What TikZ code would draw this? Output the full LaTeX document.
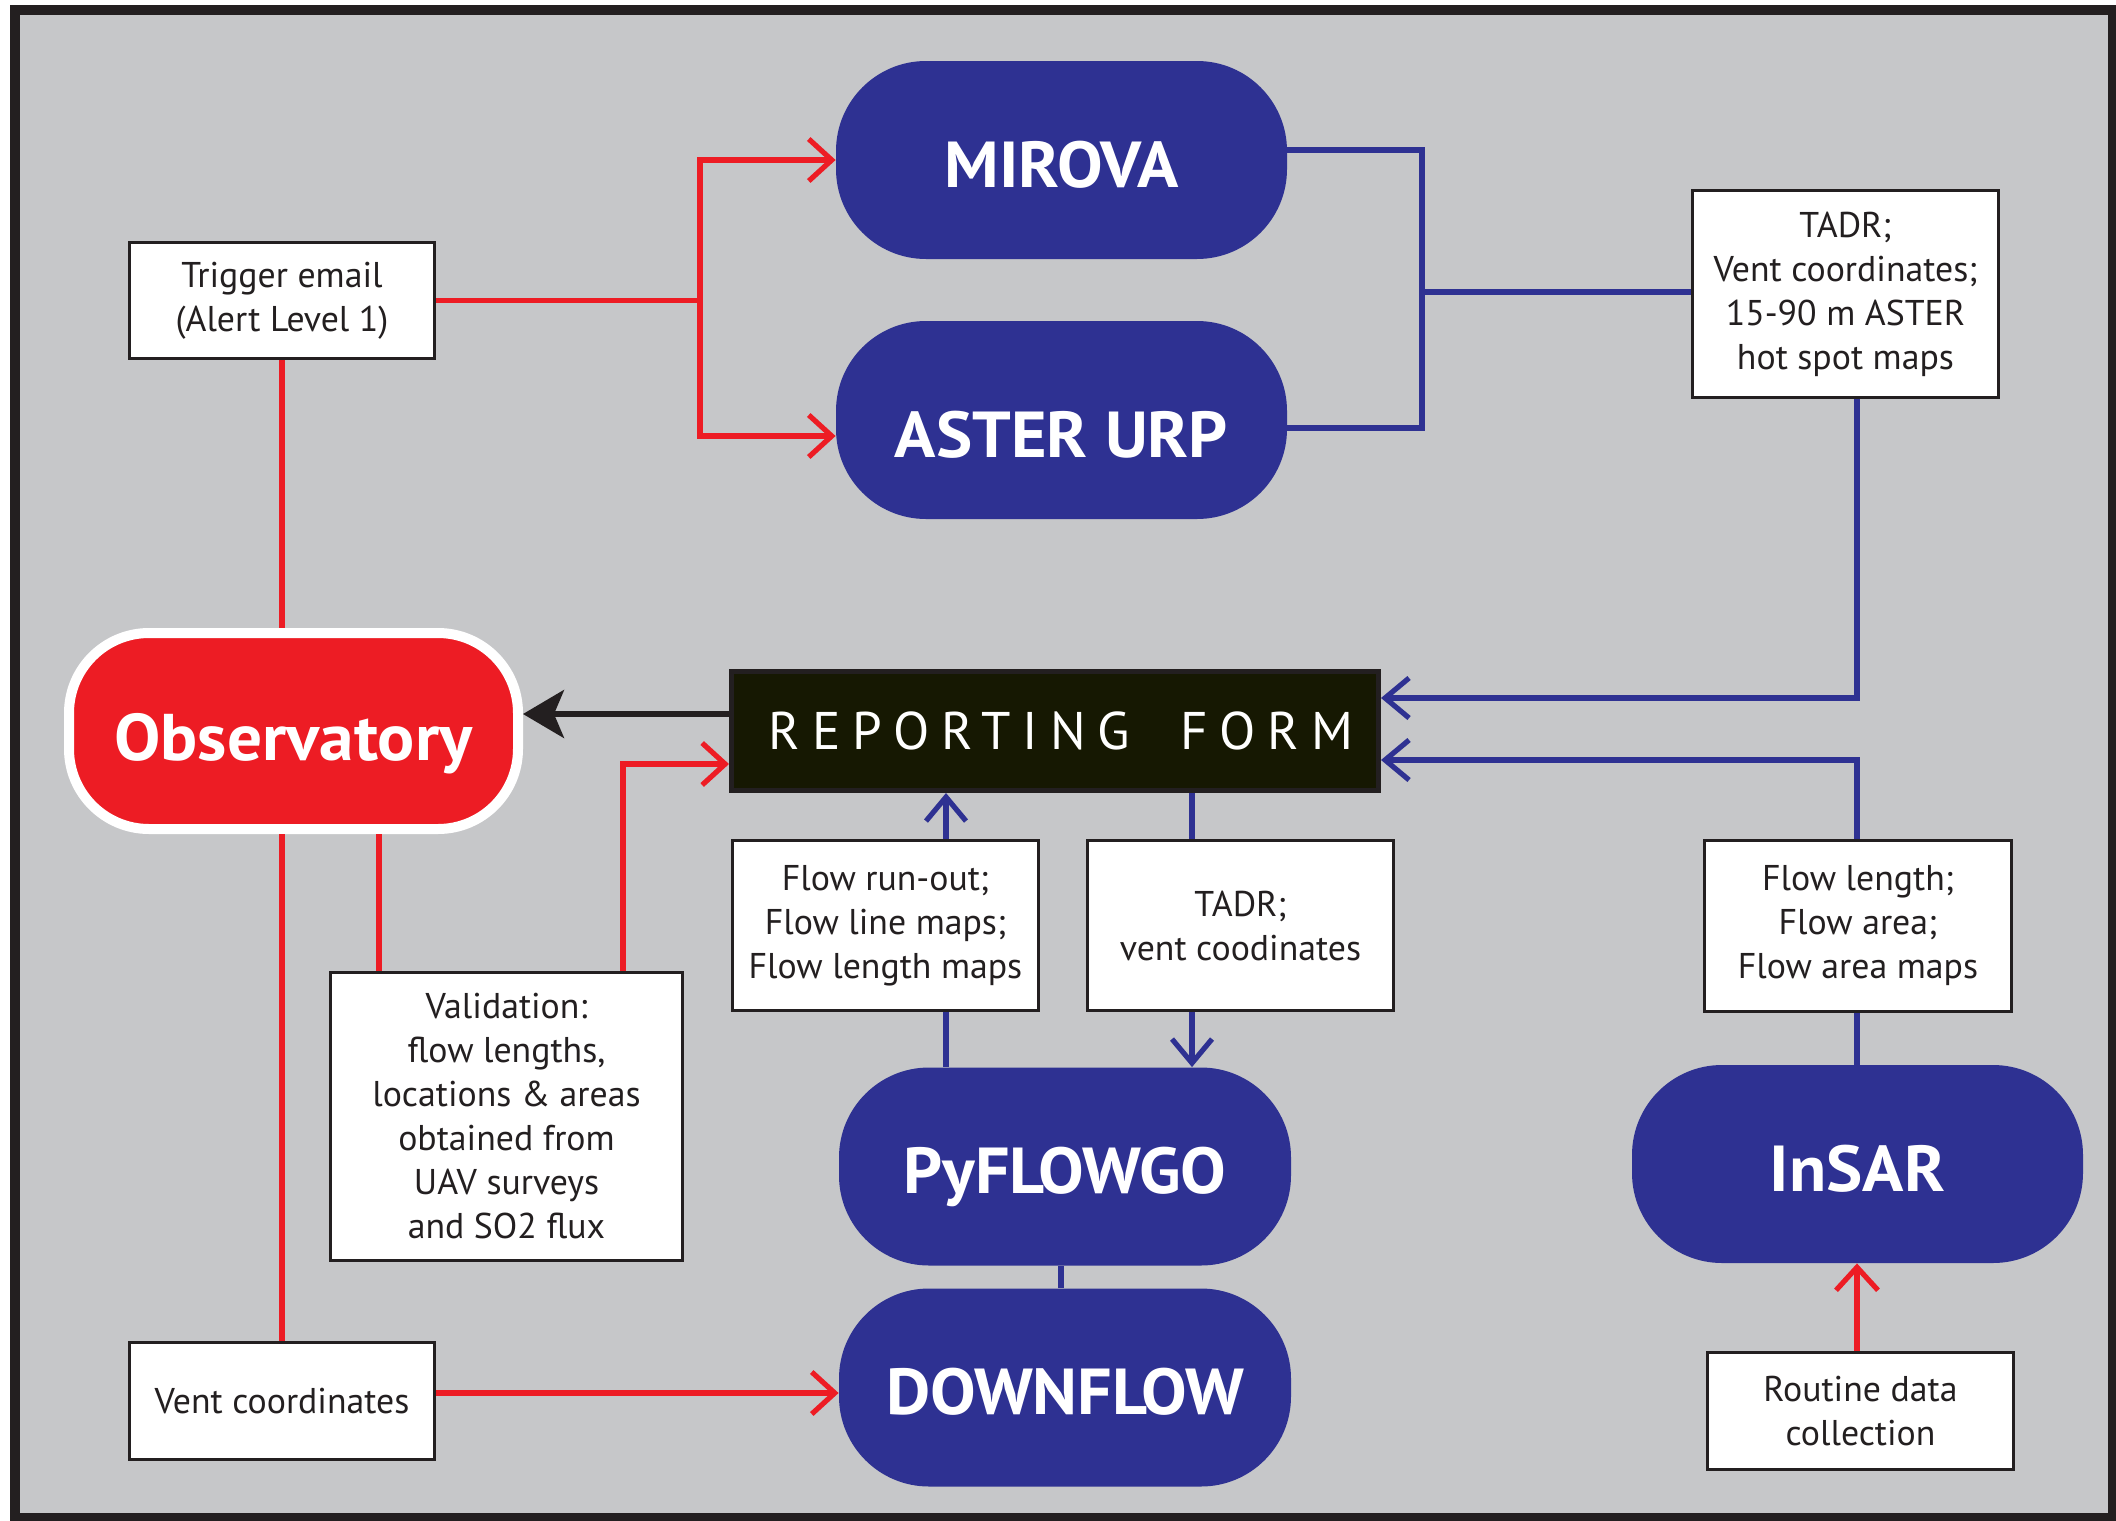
\documentclass[tikz,border=0pt]{standalone}
\usepackage{fontspec}
\setmainfont{PT Sans}
\newfontfamily\formfamily[LetterSpace=22.5]{PT Sans}
\newfontfamily\titlefamily[FakeStretch=1.05]{PT Sans Bold}
\usetikzlibrary{arrows.meta}
\definecolor{myblue}{RGB}{46,49,146}
\definecolor{myred}{RGB}{237,28,36}
\definecolor{bggray}{RGB}{198,199,201}
\definecolor{ink}{RGB}{35,31,32}
\definecolor{formfill}{RGB}{22,24,2}
\tikzset{
  pill/.style={fill=myblue, text=white, rounded corners=45pt, minimum width=225.5pt,
    minimum height=99pt, inner sep=0pt, font=\fontsize{32.5pt}{36pt}\selectfont\titlefamily,
    text height=27pt, text depth=0pt},
  infobox/.style={draw=ink, line width=1.5pt, fill=white, text=ink, align=center,
    inner sep=0pt, font=\fontsize{17.9pt}{22pt}\selectfont},
  redline/.style={draw=myred, line width=2.6pt},
  blueline/.style={draw=myblue, line width=2.6pt},
  redarr/.style={redline, -{Straight Barb[length=11.5pt,width=21pt]}},
  bluearr/.style={blueline, -{Straight Barb[length=12pt,width=20pt]}},
  blackarr/.style={draw=ink, line width=2.7pt, -{Stealth[length=20.5pt,width=24pt,inset=5pt]}},
}
\begin{document}
\begin{tikzpicture}[x=0.5pt,y=-0.5pt]
\useasboundingbox (0,0) rectangle (2116,1521);
\fill[white] (0,0) rectangle (2116,1521);
\fill[ink] (10,5) rectangle (2116,1521);
\fill[bggray] (20,15) rectangle (2108,1513);

% nodes
\node[infobox, minimum width=152.5pt, minimum height=58pt] (trig) at (282,300.5) {Trigger email\\(Alert Level 1)};
\node[pill] (mirova) at (1061.5,160) {MIROVA};
\node[pill, text height=37pt] (aster) at (1061.5,420) {ASTER URP};
\node[infobox, minimum width=153pt, minimum height=103.5pt] (tadr) at (1845.5,294) {TADR;\\Vent coordinates;\\15-90 m ASTER\\hot spot maps};
\node[draw=ink, line width=2.5pt, fill=formfill, text=white, minimum width=323.5pt, minimum height=59.5pt,
  inner sep=0pt, text height=18.5pt, text depth=0pt, font=\fontsize{26.5pt}{30pt}\selectfont\formfamily] (form) at (1055,731) {\kern6pt REPORTING\kern25pt FORM};
\node[draw=white, line width=5pt, fill=myred, text=white, rounded corners=40pt, minimum width=224.5pt,
  minimum height=98pt, inner sep=0pt, text height=29pt, text depth=0pt,
  font=\fontsize{33pt}{36pt}\selectfont\titlefamily] (obs) at (293.5,731) {Observatory};
\node[infobox, minimum width=153pt, minimum height=85pt] (flowrun) at (885.5,925.5) {Flow run-out;\\Flow line maps;\\Flow length maps};
\node[infobox, minimum width=153pt, minimum height=85pt] (tadrb) at (1240.5,925.5) {TADR;\\vent coodinates};
\node[infobox, minimum width=153.5pt, minimum height=85.5pt] (flen) at (1858,926) {Flow length;\\Flow area;\\Flow area maps};
\node[infobox, minimum width=176pt, minimum height=144pt] (valid) at (506.5,1116.5) {Validation:\\flow lengths,\\locations \& areas\\obtained from\\UAV surveys\\and SO2 flux};
\node[pill, minimum width=226pt] (pyflowgo) at (1065,1166.5) {PyFLOWGO};
\node[pill, minimum width=226pt] (downflow) at (1065,1387.5) {DOWNFLOW};
\node[pill] (insar) at (1857.5,1164) {InSAR};
\node[infobox, minimum width=152.5pt, minimum height=58.5pt] (vent) at (282,1401) {Vent coordinates};
\node[infobox, minimum width=153pt, minimum height=58.5pt] (routine) at (1860.5,1411) {Routine data\\collection};

% helper coordinates
\coordinate (jr) at (700,300.5);
\coordinate (jb) at (1422,292);
\coordinate (cR) at (1857,0);
\coordinate (cA) at (946,0);
\coordinate (cB) at (1192,0);
\coordinate (cC) at (1061,0);
\coordinate (cD) at (623,0);
\coordinate (cE) at (282,0);
\coordinate (cF) at (379,0);

% red connectors
\draw[redline] (trig.east) -- (jr);
\draw[redarr] (jr) |- (mirova.west);
\draw[redarr] (jr) |- ([yshift=-8pt]aster.west);
\draw[redline] (trig.south) -- (trig.south |- obs.north);
\draw[redline] (obs.south -| cE) -- (vent.north);
\draw[redline] (obs.south -| cF) -- (valid.north -| cF);
\draw[redarr] (valid.north -| cD) |- ([yshift=-16.5pt]form.west);
\draw[redarr] ([yshift=4pt]vent.east) -- ([yshift=4pt]vent.east -| downflow.west);
\draw[redarr] (routine.north -| cR) -- (insar.south -| cR);

% blue connectors
\draw[blueline] ([yshift=5pt]mirova.east) -| (jb) |- ([yshift=-4pt]aster.east);
\draw[blueline] (jb) -- (jb -| tadr.west);
\draw[bluearr] (tadr.south -| cR) |- ([yshift=16.5pt]form.east);
\draw[bluearr] (flen.north -| cR) |- ([yshift=-14.5pt]form.east);
\draw[blueline] (insar.north -| cR) -- (flen.south -| cR);
\draw[bluearr] (flowrun.north -| cA) -- (form.south -| cA);
\draw[blueline] (flowrun.south -| cA) -- (pyflowgo.north -| cA);
\draw[blueline] (form.south -| cB) -- (tadrb.north -| cB);
\draw[bluearr] (tadrb.south -| cB) -- (pyflowgo.north -| cB);
\draw[blueline] (pyflowgo.south -| cC) -- (downflow.north -| cC);

% black connector
\draw[blackarr] ([yshift=8.5pt]form.west) -- ([yshift=8.5pt]form.west -| obs.east);
\end{tikzpicture}
\end{document}
